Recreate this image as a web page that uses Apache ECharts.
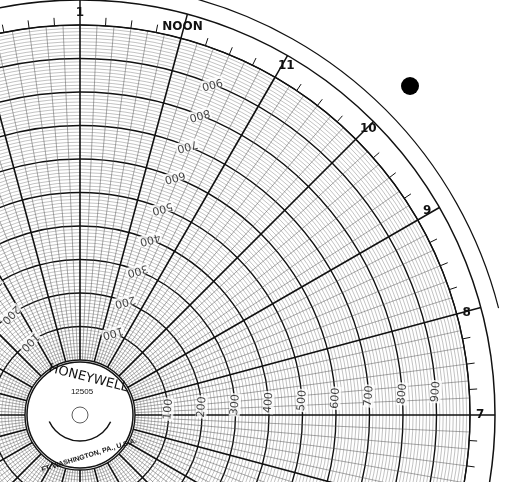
<!DOCTYPE html><html><head><meta charset="utf-8">
<script src="https://cdn.jsdelivr.net/npm/echarts@6/dist/echarts.min.js"></script>
<style>html,body{margin:0;background:#fff}#c{width:512px;height:482px}</style></head><body><div id="c"></div>
<script>
const hourLabels = ['MIDNIGHT','1','2','3','4','5','6','7','8','9','10','11','NOON','1','2','3','4','5','6','7','8','9','10','11'];
const scaleValues = [100,200,300,400,500,600,700,800,900];
const labelHourA = 7.25;   // hour position of lower row of scale labels
const labelHourB = 11.55;  // hour position of upper row of scale labels
const labelHourC = 15.3;   // hour position of left row of scale labels
const c = echarts.init(document.getElementById('c'));
const CX = 80, CY = 415;
const lbl = {show:true,formatter:p=>p.value[0],color:'#111',fontSize:11,fontFamily:'DejaVu Sans',backgroundColor:'#fff',padding:[0,1]};
c.setOption({
  backgroundColor:'#fff', animation:false,
  polar:[{center:[CX,CY],radius:[55,390]},{center:[CX,CY],radius:[0,390]}],
  angleAxis:[{polarIndex:0,type:'value',min:0,max:24,interval:1,startAngle:255,clockwise:false,
      axisLine:{show:false},axisTick:{show:false},axisLabel:{show:false},
      splitLine:{lineStyle:{color:'#111',width:1.6}},
      minorSplitLine:{show:true,lineStyle:{color:'#555',width:0.5}},minorTick:{splitNumber:6}},
    {polarIndex:1,type:'value',min:0,max:24,interval:1,startAngle:255,clockwise:false,
      axisLine:{lineStyle:{color:'#111',width:1.2}},
      axisTick:{length:25,lineStyle:{color:'#111',width:1.5}},
      minorTick:{show:true,splitNumber:4,length:8,lineStyle:{color:'#111'}},
      axisLabel:{margin:6,color:'#111',fontSize:12,fontWeight:'bold',fontFamily:'DejaVu Sans',hideOverlap:false,
        formatter:v=>hourLabels[Math.round(v)%24]},
      splitLine:{show:false}}],
  radiusAxis:[{polarIndex:0,type:'value',min:0,max:1000,interval:100,
      axisLine:{show:false},axisTick:{show:false},axisLabel:{show:false},
      splitLine:{lineStyle:{color:'#111',width:1.4}},
      minorSplitLine:{show:true,lineStyle:{color:'#666',width:0.4}},minorTick:{splitNumber:10}},
    {polarIndex:1,type:'value',min:0,max:1000,axisLine:{show:false},axisTick:{show:false},axisLabel:{show:false},splitLine:{show:false}}],
  series:[
    {type:'scatter',coordinateSystem:'polar',polarIndex:0,symbolSize:0,
     data:scaleValues.map(v=>[v,labelHourA]),label:Object.assign({rotate:85},lbl)},
    {type:'scatter',coordinateSystem:'polar',polarIndex:0,symbolSize:0,
     data:scaleValues.map(v=>[v,labelHourB]),label:Object.assign({rotate:-165},lbl)},
    {type:'scatter',coordinateSystem:'polar',polarIndex:0,symbolSize:0,
     data:scaleValues.slice(0,3).map(v=>[v,labelHourC]),label:Object.assign({rotate:-135},lbl)}
  ],
  graphic:[
    {type:'circle',shape:{cx:CX,cy:CY,r:415},style:{fill:'none',stroke:'#111',lineWidth:1.5}},
    {type:'circle',shape:{cx:CX,cy:CY,r:53},style:{fill:'#fff',stroke:'#111',lineWidth:1.5},z:10},
    {type:'circle',shape:{cx:CX,cy:CY,r:8},style:{fill:'none',stroke:'#333',lineWidth:0.8},z:11},
    {type:'arc',shape:{cx:CX,cy:CY-8,r:34,startAngle:0.45,endAngle:2.7},style:{fill:'none',stroke:'#111',lineWidth:1.5},z:11},
    {type:'text',x:90,y:372,rotation:-0.25,style:{text:'HONEYWELL',fontSize:13,fill:'#111',align:'center',fontFamily:'DejaVu Sans'},z:12},
    {type:'text',x:82,y:388,style:{text:'12505',fontSize:8,fill:'#111',align:'center'},z:12},
    {type:'text',x:88,y:452,rotation:0.3,style:{text:'FT. WASHINGTON, PA., U.S.A.',fontSize:7,fontWeight:'bold',fill:'#111',align:'center'},z:12},
    {type:'circle',shape:{cx:410,cy:86,r:9},style:{fill:'#000'}},
    {type:'arc',shape:{cx:CX,cy:CY,r:432,startAngle:-1.32,endAngle:-0.25},style:{fill:'none',stroke:'#111',lineWidth:1.2}}
  ]
});
</script></body></html>
